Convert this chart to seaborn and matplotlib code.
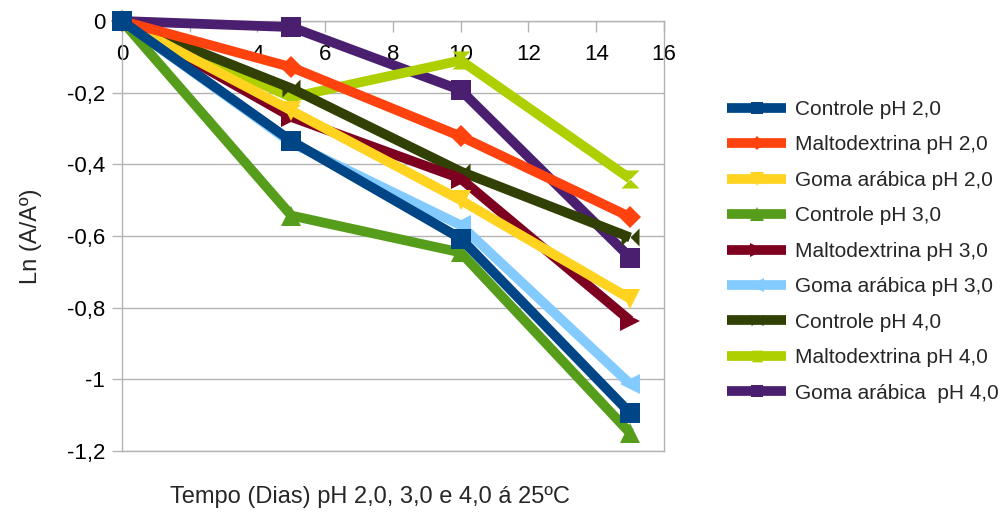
import matplotlib
matplotlib.use("Agg")
import matplotlib.pyplot as plt
from matplotlib.ticker import FuncFormatter, MultipleLocator
import seaborn as sns
import pandas as pd

# Storage time (days)
dias = [0, 5, 10, 15]

series_names = [
    "Controle pH 2,0",
    "Maltodextrina pH 2,0",
    "Goma arábica pH 2,0",
    "Controle pH 3,0",
    "Maltodextrina pH 3,0",
    "Goma arábica pH 3,0",
    "Controle pH 4,0",
    "Maltodextrina pH 4,0",
    "Goma arábica  pH 4,0",
]

controle_ph2 = [0, -0.335, -0.607, -1.094]
malto_ph2 = [0, -0.129, -0.322, -0.547]
goma_ph2 = [0, -0.250, -0.500, -0.775]
controle_ph3 = [0, -0.543, -0.646, -1.150]
malto_ph3 = [0, -0.268, -0.440, -0.836]
goma_ph3 = [0, -0.340, -0.570, -1.013]
controle_ph4 = [0, -0.188, -0.420, -0.604]
malto_ph4 = [0, -0.213, -0.110, -0.440]
goma_ph4 = [0, -0.017, -0.193, -0.660]

values = [controle_ph2, malto_ph2, goma_ph2, controle_ph3, malto_ph3,
          goma_ph3, controle_ph4, malto_ph4, goma_ph4]

colors = ["#004586", "#ff420e", "#ffd320", "#579d1c", "#7e0021",
          "#83caff", "#314004", "#aecf00", "#4b1f6f"]

bowtie_v = [(-1, 1), (1, 1), (-1, -1), (1, -1), (-1, 1)]
bowtie_h = [(-1, 1), (-1, -1), (1, 1), (1, -1), (-1, 1)]
markers = ["s", "D", "v", "^", ">", "<", bowtie_h, bowtie_v, "s"]
msizes = [14, 11, 15, 15, 15, 15, 13, 13, 14]

sns.set_theme(style="white")
plt.rcParams["font.family"] = ["Liberation Sans", "DejaVu Sans"]

fig = plt.figure(figsize=(10.04, 5.13), dpi=100)
ax = fig.add_axes([122 / 1004, 1 - 451 / 513, (664 - 122) / 1004, (451 - 21) / 513])

grey = "#b3b3b3"
for i, (name, vals) in enumerate(zip(series_names, values)):
    df = pd.DataFrame({"dias": dias, "ln": vals})
    sns.lineplot(data=df, x="dias", y="ln", ax=ax, color=colors[i], lw=7,
                 marker=markers[i], markersize=msizes[i], markeredgewidth=0,
                 label=name, zorder=20 - i, clip_on=False,
                 solid_joinstyle="miter", solid_capstyle="butt")

ax.set_xlim(0, 16)
ax.set_ylim(-1.2, 0)
ax.xaxis.set_major_locator(MultipleLocator(2))
ax.yaxis.set_major_locator(MultipleLocator(0.2))

def comma(v, _pos):
    if abs(v) < 1e-9:
        return "0"
    return f"{v:.1f}".rstrip("0").rstrip(".").replace(".", ",")

ax.xaxis.set_major_formatter(FuncFormatter(comma))
ax.yaxis.set_major_formatter(FuncFormatter(comma))

ax.grid(axis="y", color=grey, lw=1)
ax.grid(axis="x", visible=False)
ax.set_axisbelow(True)
for sp in ax.spines.values():
    sp.set_color(grey)
    sp.set_linewidth(1)

ax.tick_params(axis="x", top=True, bottom=False, labeltop=True, labelbottom=False,
               direction="in", length=8, width=1, color=grey, pad=-32,
               labelsize=16, labelcolor="black")
ax.tick_params(axis="y", left=True, direction="out", length=7, width=1,
               color=grey, pad=5, labelsize=16, labelcolor="black")

ax.set_xlabel("")
ax.set_ylabel("")
fig.text(370 / 1004, 1 - 497 / 513, "Tempo (Dias) pH 2,0, 3,0 e 4,0 á 25ºC",
         ha="center", va="center", fontsize=17)
fig.text(31 / 1004, 1 - 236 / 513, "Ln (A/Aº)", ha="center", va="center",
         rotation=90, fontsize=17)

handles, labels = ax.get_legend_handles_labels()
for h in handles:
    h.set_solid_capstyle("butt")
ax.legend(handles, labels, loc="upper left", bbox_to_anchor=(727 / 1004, 1 - 100 / 513),
          bbox_transform=fig.transFigure, frameon=False, fontsize=15,
          handlelength=2.84, handletextpad=0.42, labelspacing=0.79,
          markerscale=0.65, borderaxespad=0, borderpad=0)

fig.savefig("out.png", dpi=100)
